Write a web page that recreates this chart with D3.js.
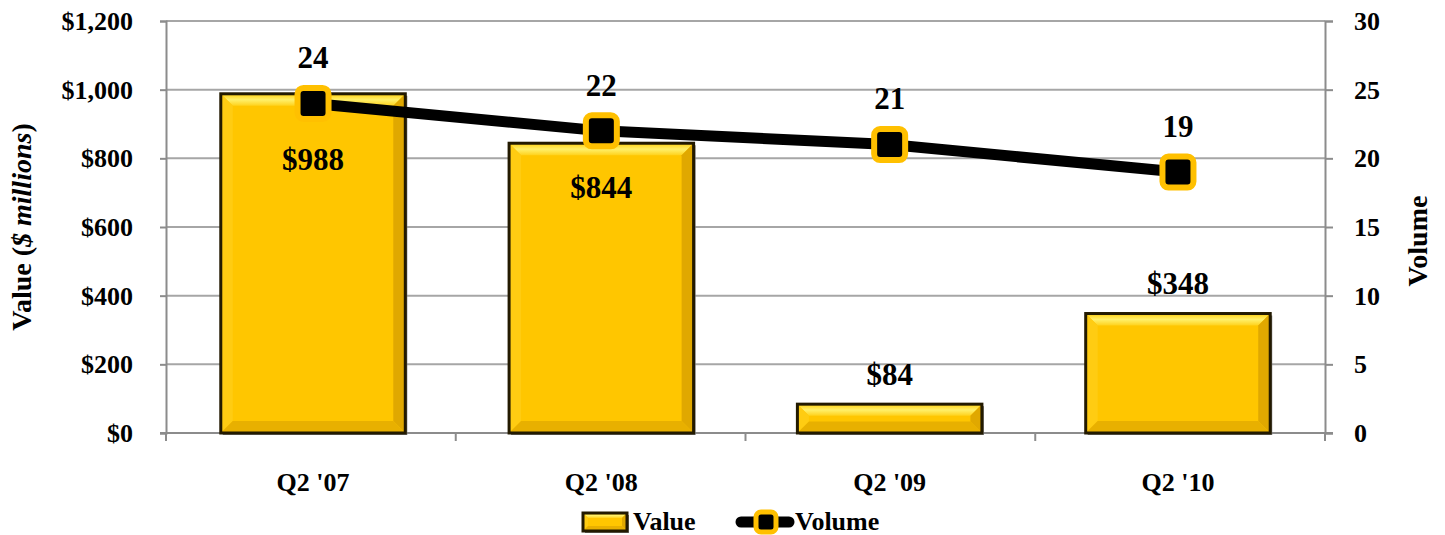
<!DOCTYPE html>
<html lang="en">
<head>
<meta charset="UTF-8">
<title>Value and Volume</title>
<script src="https://cdn.jsdelivr.net/npm/d3@7/dist/d3.min.js"></script>
<style>
    body { margin: 0; background: #fff; }
    svg text { font-family: "Liberation Serif", "Times New Roman", serif; font-weight: bold; fill: #000; }
</style>
</head>
<body>
<div id="chart"></div>
<script>
const quarters = ["Q2 '07", "Q2 '08", "Q2 '09", "Q2 '10"];
const values = [988, 844, 84, 348];      // $ millions
const volumes = [24, 22, 21, 19];
const valueTicks = [0, 200, 400, 600, 800, 1000, 1200];
const volumeTicks = [0, 5, 10, 15, 20, 25, 30];

const width = 1445, height = 535;
const margin = { top: 21, right: 120, bottom: 102, left: 166 };

const svg = d3.select('#chart').append('svg')
    .attr('width', width)
    .attr('height', height);

const defs = svg.append('defs');
const topGrad = defs.append('linearGradient').attr('id', 'bevelTop')
    .attr('x1', 0).attr('y1', 0).attr('x2', 0).attr('y2', 1);
topGrad.append('stop').attr('offset', 0).attr('stop-color', '#ffcf10');
topGrad.append('stop').attr('offset', 0.5).attr('stop-color', '#fff06a');
topGrad.append('stop').attr('offset', 1).attr('stop-color', '#ffd21c');

const x = d3.scaleBand()
    .domain(quarters)
    .range([margin.left, width - margin.right])
    .paddingInner(0.36)
    .paddingOuter(0.19);

const y = d3.scaleLinear().domain([0, 1200]).range([height - margin.bottom, margin.top]);
const y2 = d3.scaleLinear().domain([0, 30]).range([height - margin.bottom, margin.top]);

const x0 = margin.left, x1 = width - margin.right;
const yBase = y(0);

// gridlines
svg.append('g')
    .selectAll('line')
    .data(valueTicks.slice(1))
    .enter().append('line')
    .attr('x1', x0).attr('x2', x1)
    .attr('y1', d => y(d)).attr('y2', d => y(d))
    .attr('stroke', '#a6a6a6')
    .attr('stroke-width', 2);

// left axis
const leftAxis = svg.append('g')
    .attr('transform', `translate(${x0},0)`)
    .call(d3.axisLeft(y).tickValues(valueTicks).tickSize(6).tickPadding(27)
        .tickFormat(d => '$' + d3.format(',')(d)));
leftAxis.select('.domain').attr('stroke', '#8c8c8c').attr('stroke-width', 2);
leftAxis.selectAll('.tick line').attr('stroke', '#8c8c8c').attr('stroke-width', 2);
leftAxis.selectAll('.tick text').style('font-size', '26px').attr('dy', '0.33em');

// right axis
const rightAxis = svg.append('g')
    .attr('transform', `translate(${x1},0)`)
    .call(d3.axisRight(y2).tickValues(volumeTicks).tickSize(8).tickPadding(21));
rightAxis.select('.domain').attr('stroke', '#8c8c8c').attr('stroke-width', 2);
rightAxis.selectAll('.tick line').attr('stroke', '#8c8c8c').attr('stroke-width', 2);
rightAxis.selectAll('.tick text').style('font-size', '26px').attr('dy', '0.33em');

// bottom axis: baseline and category boundary ticks
svg.append('line')
    .attr('x1', x0 - 6).attr('x2', x1 + 8)
    .attr('y1', yBase).attr('y2', yBase)
    .attr('stroke', '#8c8c8c').attr('stroke-width', 2);
const step = (x1 - x0) / quarters.length;
svg.append('g').selectAll('line')
    .data(d3.range(quarters.length + 1))
    .enter().append('line')
    .attr('x1', i => x0 + i * step).attr('x2', i => x0 + i * step)
    .attr('y1', yBase).attr('y2', yBase + 8)
    .attr('stroke', '#8c8c8c').attr('stroke-width', 2);

svg.append('g').selectAll('text')
    .data(quarters)
    .enter().append('text')
    .attr('x', d => x(d) + x.bandwidth() / 2)
    .attr('y', 491)
    .attr('text-anchor', 'middle')
    .style('font-size', '26px')
    .text(d => d);

// beveled bar drawing
function drawBevelBar(g, bx, by, bw, bh, b) {
    b = Math.min(b, bh / 2.5);
    g.append('rect')
        .attr('x', bx + 2).attr('y', by + 2).attr('width', bw).attr('height', bh)
        .attr('fill', '#7a7a7a');
    g.append('rect')
        .attr('x', bx).attr('y', by).attr('width', bw).attr('height', bh)
        .attr('fill', '#ffc600');
    const tl = [bx, by], tr = [bx + bw, by], br = [bx + bw, by + bh], bl = [bx, by + bh];
    const itl = [bx + b, by + b], itr = [bx + bw - b, by + b],
        ibr = [bx + bw - b, by + bh - b], ibl = [bx + b, by + bh - b];
    const poly = pts => pts.map(p => p.join(',')).join(' ');
    g.append('polygon').attr('points', poly([tl, tr, itr, itl])).attr('fill', 'url(#bevelTop)');
    g.append('polygon').attr('points', poly([tl, itl, ibl, bl])).attr('fill', '#ffcc12');
    g.append('polygon').attr('points', poly([tr, br, ibr, itr])).attr('fill', '#e0a800');
    g.append('polygon').attr('points', poly([bl, ibl, ibr, br])).attr('fill', '#e8b000');
    g.append('rect')
        .attr('x', bx).attr('y', by).attr('width', bw).attr('height', bh)
        .attr('fill', 'none').attr('stroke', '#231a00').attr('stroke-width', 3);
}

const bars = svg.append('g');
quarters.forEach((q, i) => {
    const g = bars.append('g');
    drawBevelBar(g, x(q), y(values[i]), x.bandwidth(), yBase - y(values[i]), 12);
});

// volume line
const cx = q => x(q) + x.bandwidth() / 2;
const line = d3.line().x((d, i) => cx(quarters[i])).y(d => y2(d));
svg.append('path')
    .attr('d', line(volumes))
    .attr('fill', 'none')
    .attr('stroke', '#000')
    .attr('stroke-width', 11);

const mk = 31;
svg.append('g').selectAll('rect')
    .data(volumes)
    .enter().append('rect')
    .attr('x', (d, i) => cx(quarters[i]) - mk / 2)
    .attr('y', d => y2(d) - mk / 2)
    .attr('width', mk).attr('height', mk)
    .attr('rx', 6)
    .attr('fill', '#000')
    .attr('stroke', '#ffc000')
    .attr('stroke-width', 6);

// volume labels
svg.append('g').selectAll('text')
    .data(volumes)
    .enter().append('text')
    .attr('x', (d, i) => cx(quarters[i]))
    .attr('y', d => y2(d) - 46)
    .attr('dy', '0.35em')
    .attr('text-anchor', 'middle')
    .style('font-size', '31px')
    .text(d => d);

// value labels: inside under the marker for tall bars, above otherwise
svg.append('g').selectAll('text')
    .data(values)
    .enter().append('text')
    .attr('x', (d, i) => cx(quarters[i]))
    .attr('y', (d, i) => d > 500 ? y2(volumes[i]) + 56 : y(d) - 30)
    .attr('dy', '0.35em')
    .attr('text-anchor', 'middle')
    .style('font-size', '31px')
    .text(d => '$' + d);

// axis titles
const lt = svg.append('text')
    .attr('transform', `translate(31,${(margin.top + yBase) / 2}) rotate(-90)`)
    .attr('text-anchor', 'middle')
    .style('font-size', '28px');
lt.append('tspan').text('Value (');
lt.append('tspan').style('font-style', 'italic').text('$ millions');
lt.append('tspan').text(')');

svg.append('text')
    .attr('transform', `translate(1427,${(margin.top + yBase) / 2 + 14}) rotate(-90)`)
    .attr('text-anchor', 'middle')
    .style('font-size', '28px')
    .text('Volume');

// legend
const lg = svg.append('g');
drawBevelBar(lg.append('g'), 583, 513, 44, 18, 5);
lg.append('text').attr('x', 633).attr('y', 530).style('font-size', '26px').text('Value');
lg.append('line')
    .attr('x1', 741).attr('x2', 789).attr('y1', 522).attr('y2', 522)
    .attr('stroke', '#000').attr('stroke-width', 11).attr('stroke-linecap', 'round');
lg.append('rect')
    .attr('x', 766 - 10).attr('y', 522 - 10).attr('width', 20).attr('height', 20)
    .attr('rx', 5)
    .attr('fill', '#000').attr('stroke', '#ffc000').attr('stroke-width', 5);
lg.append('text').attr('x', 795).attr('y', 530).style('font-size', '26px').text('Volume');
</script>
</body>
</html>
